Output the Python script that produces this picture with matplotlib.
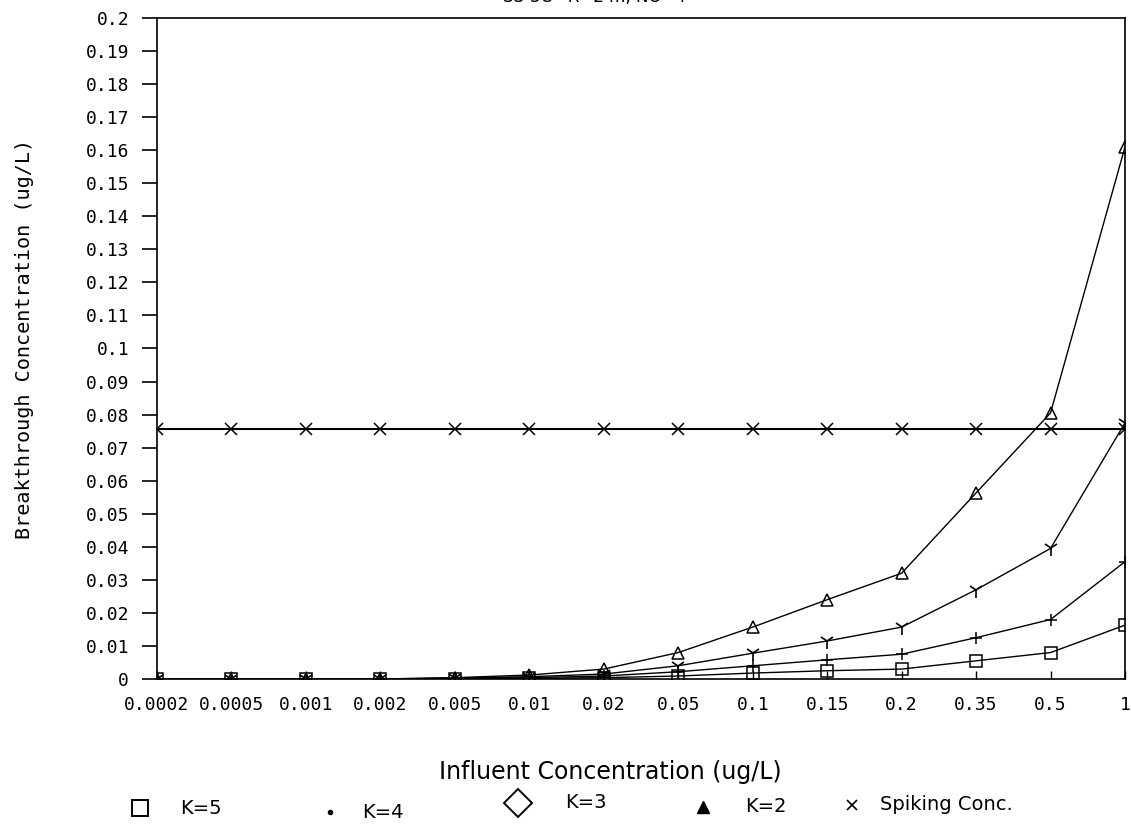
import matplotlib
matplotlib.use('Agg')
import matplotlib.pyplot as plt
from matplotlib.lines import Line2D
import numpy as np

plt.rcParams['font.family'] = ['DejaVu Sans']

# influent concentrations (categorical x axis)
influent = ['0.0002', '0.0005', '0.001', '0.002', '0.005', '0.01', '0.02',
            '0.05', '0.1', '0.15', '0.2', '0.35', '0.5', '1']

# breakthrough concentrations (ug/L)
k5 = [0, 0, 0, 0, 0.0001, 0.0002, 0.0004, 0.0009, 0.0018, 0.0025, 0.003, 0.0055, 0.008, 0.0163]
k4 = [0, 0, 0, 0, 0.0002, 0.0004, 0.0009, 0.0022, 0.004, 0.0058, 0.0075, 0.0125, 0.018, 0.0355]
k3 = [0, 0, 0, 0, 0.0003, 0.0007, 0.0015, 0.004, 0.0078, 0.0115, 0.0157, 0.027, 0.0395, 0.0775]
k2 = [0, 0, 0, 0, 0.0004, 0.0012, 0.003, 0.008, 0.0157, 0.024, 0.032, 0.0563, 0.0805, 0.161]
spike = [0.0755] * len(influent)

yticks = np.round(np.arange(0, 0.2001, 0.01), 2)
legend_labels = ['K=5', 'K=4', 'K=3', 'K=2', 'Spiking Conc.']

W, H = 1131, 836
fig = plt.figure(figsize=(W / 100, H / 100), dpi=100)
ax = fig.add_axes([0.1388, 0.1878, 0.8559, 0.7907])

x = np.arange(len(influent))
lw = 1.0
ax.plot(x, k5, color='black', lw=lw, marker='s', ms=8, mfc='none', mew=1.1)
ax.plot(x, k4, color='black', lw=lw, marker='+', ms=9, mew=1.1)
ax.plot(x, k3, color='black', lw=lw, marker='1', ms=11, mew=1.2)
ax.plot(x, k2, color='black', lw=lw, marker='^', ms=9, mfc='none', mew=1.1)
ax.plot(x, spike, color='black', lw=1.5, marker='x', ms=8, mew=1.1)

mono = 'DejaVu Sans Mono'
ax.set_xlim(0, len(influent) - 1)
ax.set_ylim(0, 0.2)
ax.set_xticks(x)
ax.set_xticklabels(influent, fontsize=13, family=mono)
ax.set_yticks(yticks)
ax.set_yticklabels(['%g' % v for v in yticks], fontsize=13, family=mono)
ax.tick_params(axis='y', direction='out', length=11, width=1.2, pad=9)
ax.tick_params(axis='x', direction='in', length=6, width=1.0, pad=12)
for s in ax.spines.values():
    s.set_linewidth(1.2)

fig.text(0.022, 0.595, 'Breakthrough Concentration (ug/L)', rotation=90,
         ha='center', va='center', fontsize=14.5, family=mono)
fig.text(0.54, 0.076, 'Influent Concentration (ug/L)', ha='center', va='center',
         fontsize=17)
# title is cut off by the top edge of the scan
fig.text(0.526, 1.004, 'SS-3C   R=2 m, NO=4', ha='center', va='center',
         fontsize=12)

# hand-placed legend row under the x label
markers = [dict(marker='s', ms=12, mfc='none', mew=1.4),
           dict(marker='.', ms=6),
           dict(marker='D', ms=14, mfc='none', mew=1.4),
           dict(marker='^', ms=9),
           dict(marker='x', ms=7, mew=1.2)]
mark_x = [140, 330, 518, 703, 852]
mark_y = [808, 812, 803, 807, 805]
text_x = [180, 362, 565, 745, 880]
for lab, mk, mx, my, tx in zip(legend_labels, markers, mark_x, mark_y, text_x):
    fig.add_artist(Line2D([mx / W], [1 - my / H], ls='none', color='black',
                          transform=fig.transFigure, **mk))
    fig.text(tx / W, 1 - my / H, lab, ha='left', va='center', fontsize=14)

fig.savefig('out.png', dpi=100)
